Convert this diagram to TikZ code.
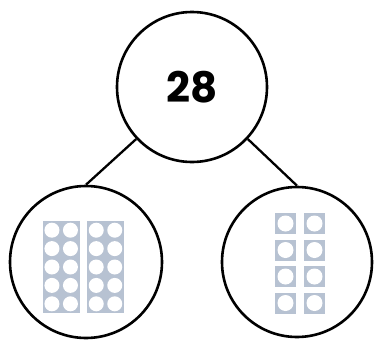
\documentclass[tikz,border=0pt]{standalone}
\usepackage{fontspec}
\newfontfamily\numfont{Poppins}
\usepackage{tikz}
\usetikzlibrary{positioning}
\definecolor{frameGrey}{RGB}{183,194,210}

\begin{document}
\begin{tikzpicture}[
    x=1pt, y=-1pt,
    part/.style={circle, draw=black, line width=2.6pt, fill=white, inner sep=0pt},
    link/.style={line width=2.3pt, draw=black},
    counter/.style={fill=white}
]
  \useasboundingbox (0,0) rectangle (376,341);

  \node[part, minimum size=150pt, font=\numfont\bfseries\fontsize{42}{42}\selectfont] (whole) at (192,87) {28};
  \node[part, minimum size=152pt] (left) at (86,262) {};
  \node[part, minimum size=150pt] (right) at (297,262) {};

  \draw[link] (whole.223.4) -- (left.north);
  \draw[link] (whole.-43.4) -- (right.north);

  % two full ten frames
  \foreach \fx in {42.7,87} {
    \fill[frameGrey] (\fx,221) rectangle ++(37,92);
    \foreach \c in {0,1}
      \foreach \r in {0,...,4}
        \fill[counter] (\fx+9.25+18.5*\c,230.2+18.4*\r) circle (7.5);
  }

  % eight single ones
  \foreach \c in {0,1}
    \foreach \r in {0,...,3} {
      \fill[frameGrey] (275+29*\c,213+26.5*\r) rectangle ++(21,21);
      \fill[counter] (285.5+29*\c,223.5+26.5*\r) circle (8);
    }
\end{tikzpicture}
\end{document}
